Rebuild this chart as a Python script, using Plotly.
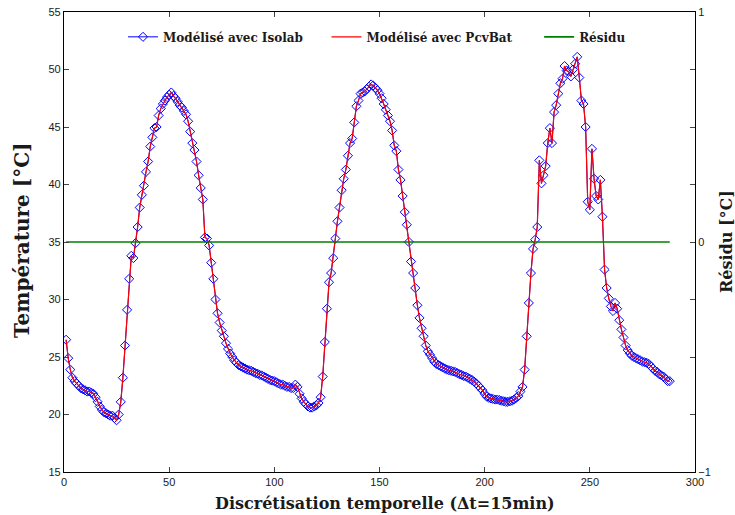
import plotly.graph_objects as go

time_steps = list(range(1, 289))

isolab = [
    26.5, 24.9, 23.9, 23.2, 22.9, 22.7, 22.5, 22.3, 22.2, 22.1,
    22.0, 22.0, 21.9, 21.8, 21.5, 21.1, 20.7, 20.4, 20.2, 20.1,
    20.0, 19.9, 19.9, 19.7, 19.5, 20.0, 21.1, 23.2, 26.0, 29.1,
    31.8, 33.8, 33.6, 34.9, 36.3, 38.0, 39.1, 39.9, 41.1, 42.0,
    43.3, 44.1, 44.9, 45.0, 46.0, 46.6, 47.0, 47.3, 47.6, 47.8,
    48.0, 47.7, 47.5, 47.2, 46.9, 46.7, 46.4, 46.1, 45.5, 44.6,
    43.6, 43.0, 42.0, 40.8, 39.7, 38.7, 35.4, 35.3, 34.7, 33.2,
    31.8, 30.0, 28.8, 28.0, 27.3, 26.8, 26.2, 25.7, 25.3, 25.0,
    24.7, 24.5, 24.3, 24.2, 24.1, 24.0, 23.9, 23.85, 23.8, 23.7,
    23.6, 23.55, 23.45, 23.4, 23.3, 23.2, 23.1, 23.0, 22.95, 22.9,
    22.8, 22.7, 22.6, 22.6, 22.5, 22.4, 22.4, 22.3, 22.3, 22.6,
    22.4, 21.8, 21.4, 21.1, 20.9, 20.7, 20.6, 20.6, 20.7, 20.8,
    21.0, 21.5, 23.3, 26.3, 29.2, 31.5, 32.3, 33.6, 35.3, 36.8,
    38.0, 39.5, 40.5, 41.3, 42.5, 43.6, 44.0, 45.4, 46.8, 47.3,
    47.9, 48.0, 48.1, 48.3, 48.5, 48.7, 48.6, 48.4, 48.2, 47.9,
    47.5, 47.0, 46.5, 46.0, 45.5, 44.7, 43.4, 42.9, 41.3, 40.4,
    39.0, 37.6, 36.5, 35.0, 33.3, 32.3, 31.0, 29.5, 28.4, 27.5,
    26.8, 26.0, 25.5, 25.2, 24.9, 24.6, 24.4, 24.3, 24.2, 24.1,
    24.0, 23.9, 23.85, 23.8, 23.75, 23.7, 23.6, 23.5, 23.45, 23.35,
    23.3, 23.2, 23.1, 23.0, 22.85, 22.7, 22.5, 22.3, 22.1, 21.8,
    21.55, 21.45, 21.4, 21.35, 21.3, 21.3, 21.25, 21.2, 21.15, 21.1,
    21.1, 21.15, 21.2, 21.3, 21.45, 21.6, 22.0, 22.4, 23.9, 26.8,
    29.7, 32.3, 34.4, 35.2, 36.3, 42.1, 40.1, 40.8, 41.6, 43.6,
    44.9, 43.6, 46.3, 46.9, 47.9, 48.8, 49.2, 50.3, 49.9, 49.8,
    49.4, 50.0, 50.5, 51.1, 49.3, 47.3, 47.0, 45.0, 38.5, 37.8,
    43.1, 40.5, 39.0, 38.7, 40.4, 37.2, 32.6, 31.0, 30.1, 29.4,
    29.0, 29.7, 29.2, 28.2, 27.4, 26.7, 26.0, 25.6, 25.3, 25.1,
    25.0, 24.9, 24.8, 24.7, 24.6, 24.55, 24.5, 24.4, 24.2, 24.0,
    23.8, 23.7, 23.5, 23.4, 23.3, 23.1, 22.9, 22.9,
]

# PcvBat model curve lies on top of the Isolab curve
pcvbat = list(isolab)
residual = [a - b for a, b in zip(isolab, pcvbat)]

x_ticks = [0, 50, 100, 150, 200, 250, 300]
y_ticks = [15, 20, 25, 30, 35, 40, 45, 50, 55]
y2_ticks = [-1, -0.75, -0.5, -0.25, 0, 0.25, 0.5, 0.75, 1]
y2_labels = ["\u22121", "", "", "", "0", "", "", "", "1"]

serif = "DejaVu Serif"
sans = "Liberation Sans"
txt = "#1a1a1a"

fig = go.Figure()
fig.add_trace(go.Scatter(
    x=time_steps, y=isolab, mode="lines+markers", name="Modélisé avec Isolab",
    line=dict(color="#0000ff", width=1),
    marker=dict(symbol="diamond-open", size=7, color="#0000ff", line=dict(width=1)),
    legend="legend",
))
fig.add_trace(go.Scatter(
    x=time_steps, y=pcvbat, mode="lines", name="Modélisé avec PcvBat",
    line=dict(color="#ff0000", width=1.2),
    legend="legend2",
))
fig.add_trace(go.Scatter(
    x=time_steps, y=residual, mode="lines", name="Résidu", yaxis="y2",
    line=dict(color="#008000", width=1.6),
    legend="legend3",
))

leg_common = dict(
    orientation="h", yanchor="middle", xanchor="left", y=0.946,
    bgcolor="rgba(0,0,0,0)", borderwidth=0,
    font=dict(family=serif, size=12, color=txt, weight="bold"),
)

fig.update_layout(
    width=735, height=515,
    margin=dict(l=64, r=40, t=12, b=43, autoexpand=False),
    paper_bgcolor="white", plot_bgcolor="white",
    showlegend=True,
    legend=dict(x=0.0935, **leg_common),
    legend2=dict(x=0.416, **leg_common),
    legend3=dict(x=0.753, **leg_common),
    xaxis=dict(
        range=[0, 300], tickvals=x_ticks, ticks="inside", ticklen=5,
        showline=True, linecolor="black", linewidth=1.2, mirror="ticks",
        showgrid=False, zeroline=False, automargin=False,
        tickfont=dict(family=sans, size=11, color=txt),
    ),
    yaxis=dict(
        range=[15, 55], tickvals=y_ticks, ticks="inside", ticklen=5,
        showline=True, linecolor="black", linewidth=1.2,
        showgrid=False, zeroline=False, automargin=False,
        tickfont=dict(family=sans, size=11, color=txt),
    ),
    yaxis2=dict(
        range=[-1, 1], tickvals=y2_ticks, ticktext=y2_labels, overlaying="y", side="right",
        ticks="inside", ticklen=5, showline=True, linecolor="black", linewidth=1.2,
        showgrid=False, zeroline=False, automargin=False,
        tickfont=dict(family=sans, size=11, color=txt),
    ),
    annotations=[
        dict(text="Discrétisation temporelle (Δt=15min)", xref="paper", yref="paper",
             x=0.5, y=0, xshift=5, yshift=-31, showarrow=False,
             xanchor="center", yanchor="middle",
             font=dict(family=serif, size=16, color=txt, weight="bold")),
        dict(text="Température [°C]", xref="paper", yref="paper",
             x=0, y=0.5, xshift=-42, yshift=2, showarrow=False, textangle=-90,
             xanchor="center", yanchor="middle",
             font=dict(family=serif, size=20, color=txt, weight="bold")),
        dict(text="Résidu [°C]", xref="paper", yref="paper",
             x=1, y=0.5, xshift=31, yshift=0, showarrow=False, textangle=-90,
             xanchor="center", yanchor="middle",
             font=dict(family=serif, size=16, color=txt, weight="bold")),
    ],
)

# remove the browser's default 8 px body margin so the figure fills the window
fig.write_html(
    "out.html",
    config={"displayModeBar": False},
    post_script="document.body.style.margin='0px';",
)
